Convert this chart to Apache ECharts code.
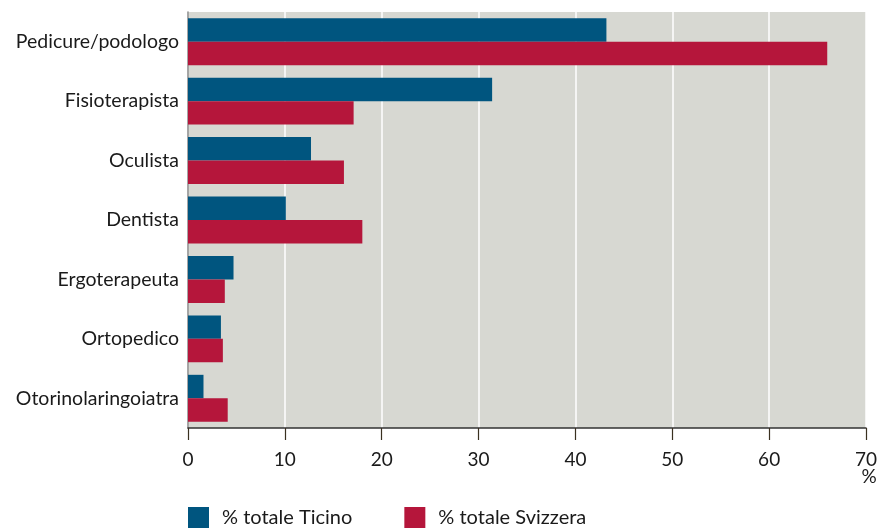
<!DOCTYPE html>
<html><head><meta charset="utf-8">
<script src="https://cdn.jsdelivr.net/npm/echarts@6/dist/echarts.min.js"></script>
<style>html,body{margin:0;padding:0;background:#fff}#c{width:880px;height:528px}</style>
</head><body><div id="c"></div>
<script>
const categories = ["Pedicure/podologo","Fisioterapista","Oculista","Dentista","Ergoterapeuta","Ortopedico","Otorinolaringoiatra"];
const ticino = [43.2, 31.4, 12.7, 10.1, 4.7, 3.4, 1.6];
const svizzera = [66.0, 17.1, 16.1, 18.0, 3.8, 3.6, 4.1];
const xTicks = [0,10,20,30,40,50,60,70];
const seriesNames = ["% totale Ticino","% totale Svizzera"];
const font = "Lato, 'Open Sans', sans-serif";
const chart = echarts.init(document.getElementById('c'));
chart.setOption({
  animation:false,
  grid:{left:188,right:11,top:12,bottom:100,show:true,backgroundColor:'#D7D8D2',borderWidth:0,containLabel:false},
  legend:{left:188,top:507,padding:0,itemWidth:21,itemHeight:22,itemGap:52,icon:'rect',
    textStyle:{fontFamily:font,fontSize:20,color:'#1a1a1a',padding:[6,0,0,8]},
    data:seriesNames},
  xAxis:{type:'value',min:xTicks[0],max:xTicks[xTicks.length-1],interval:10,
    axisLine:{show:true,lineStyle:{color:'#333',width:1.5}},
    axisTick:{show:true,length:12,lineStyle:{color:'#3a3020',width:1.2}},
    axisLabel:{fontFamily:font,fontSize:19,color:'#1a1a1a',margin:22},
    splitLine:{show:true,lineStyle:{color:'#fff',width:1.5}}},
  yAxis:{type:'category',data:categories,inverse:true,
    axisLine:{show:true,lineStyle:{color:'#888',width:1.5}},
    axisTick:{show:false},
    axisLabel:{fontFamily:font,fontSize:19.5,color:'#1a1a1a',margin:9,padding:[4,0,0,0]},
    splitLine:{show:false}},
  graphic:[{type:'text',x:869,y:467,style:{text:'%',fontFamily:font,fontSize:19,fill:'#1a1a1a',align:'center'}}],
  series:[
    {name:seriesNames[0],type:'bar',data:ticino,barGap:'0%',barCategoryGap:'21%',itemStyle:{color:'#00557F'}},
    {name:seriesNames[1],type:'bar',data:svizzera,barGap:'0%',barCategoryGap:'21%',itemStyle:{color:'#B5163B'}}
  ]
});
</script></body></html>
